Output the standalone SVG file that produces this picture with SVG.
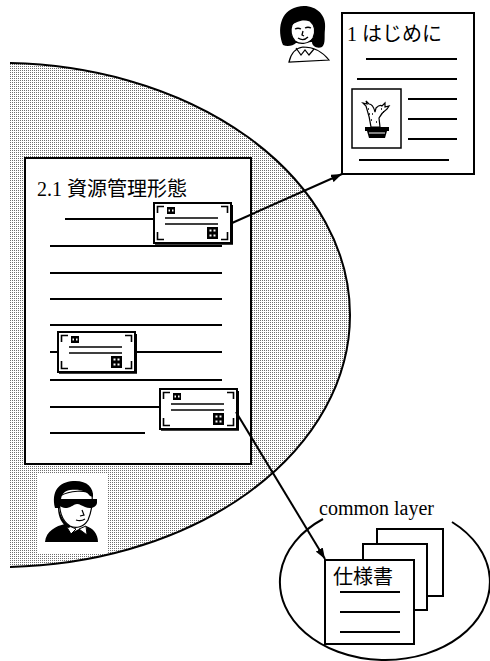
<svg xmlns="http://www.w3.org/2000/svg" width="490" height="661" viewBox="0 0 490 661">
  <style>
    .ln{stroke:#000;stroke-width:1.8;fill:none}
    .doc{fill:#fff;stroke:#000;stroke-width:2}
    .t{font-family:"Liberation Serif","Noto Sans CJK JP",serif;font-size:20px;fill:#000}
    .blk{fill:#000}
    .wht{fill:#fff;stroke:#000;stroke-width:1.2}
  </style>
  <defs>
    <pattern id="stipple" width="2" height="2" patternUnits="userSpaceOnUse">
      <rect width="2" height="2" fill="#fff"/>
      <rect width="1" height="1" fill="#6e6e6e"/>
    </pattern>
    <clipPath id="cutLeft">
      <rect x="10" y="0" width="480" height="661"/>
    </clipPath>
    <marker id="arrow" markerWidth="11" markerHeight="8" refX="11" refY="4" orient="auto" markerUnits="userSpaceOnUse">
      <path d="M0,0 L11,4 L0,8 Z" fill="#000"/>
    </marker>
    <!-- linked-resource card: ticket outline with corner brackets and link squares -->
    <symbol id="card" viewBox="0 0 80 43" width="80" height="43">
      <rect x="1" y="1" width="77" height="40" fill="#fff" stroke="#000" stroke-width="2"/>
      <path d="M2,41.5 H79 V3" stroke="#000" stroke-width="2.5" fill="none"/>
      <path d="M4.5,11 V4.5 H11 M68,4.5 H74.5 V11 M4.5,30 V37.5 H11 M68,37.5 H74.5 V30" stroke="#000" stroke-width="1.6" fill="none"/>
      <rect x="14" y="5" width="8" height="7" fill="#000"/>
      <rect x="15.5" y="7.5" width="1.5" height="2" fill="#fff"/>
      <rect x="19" y="7.5" width="1.5" height="2" fill="#fff"/>
      <rect x="54" y="25" width="11" height="12" fill="#000"/>
      <rect x="56.5" y="27.5" width="2" height="2" fill="#fff"/>
      <rect x="60.5" y="27.5" width="2" height="2" fill="#fff"/>
      <rect x="56.5" y="32.5" width="2" height="2" fill="#fff"/>
      <rect x="60.5" y="32.5" width="2" height="2" fill="#fff"/>
      <path d="M12,16 H65 M12,22 H65" stroke="#000" stroke-width="1.6"/>
    </symbol>
  </defs>

  <rect width="490" height="661" fill="#fff"/>

  <!-- shaded working domain -->
  <g id="domain" clip-path="url(#cutLeft)">
    <ellipse cx="0" cy="315" rx="350" ry="252" fill="url(#stipple)" stroke="#000" stroke-width="2"/>
  </g>

  <!-- section document 2.1 with embedded cards -->
  <g id="doc-resource">
    <rect class="doc" x="25" y="158" width="226" height="306"/>
    <text class="t" x="37" y="196">2.1 資源管理形態</text>
    <path class="ln" d="M65,219 H153 M50,246 H222 M50,273 H222 M50,299 H222 M50,325 H222 M50,352 H222 M50,380 H222 M50,407 H160 M50,433 H145"/>
    <use href="#card" x="153" y="202"/>
    <use href="#card" x="57" y="331"/>
    <use href="#card" x="159" y="388"/>
  </g>

  <!-- author (sunglasses) -->
  <g id="man">
    <rect x="38" y="473" width="70" height="80" fill="#fff"/>
    <path class="blk" d="M45,542 C46,531 56,526 65,524 L71,533 L79,529 L87,534 L86,526 C93,528 98,534 98,542 Z"/>
    <path fill="#fff" stroke="#000" stroke-width="1" d="M65,524 L71,534 L76,529 Z M86,526 L87,535 L79,529 Z"/>
    <path class="wht" d="M60,496 C58,510 62,521 70,526 C76,529 84,527 88,520 C91,513 93,505 92,494 C86,490 70,490 60,496 Z"/>
    <path class="blk" d="M55,508 C51,491 59,482 73,481 C86,480 94,487 93,497 L90,496 C86,490 78,489 70,490 C64,491 61,495 61,500 L60,508 Z"/>
    <path class="blk" d="M59,508 C60,516 64,522 71,527 L68,528 C62,524 58,517 58,508 Z"/>
    <path class="blk" d="M56,499 H97 V503 C96,508 90,509 85,507 C82,506 80,504 77,504 C74,504 72,507 67,508 C62,508 59,506 58,503 L56,502 Z"/>
    <path d="M82,510 L84,515 L80,516 M76,520 C79,521 82,521 85,519" stroke="#000" stroke-width="1.2" fill="none"/>
  </g>

  <!-- reader -->
  <g id="woman">
    <path class="wht" stroke-width="1.8" d="M289,62 C291,53 296,48 303,47 C311,47 321,50 329,60 Z"/>
    <path d="M296,48 L301,55 L305,50 L309,55 L314,49" stroke="#000" stroke-width="1.2" fill="none"/>
    <path class="blk" d="M283,45 C277,30 280,11 297,7 C313,3 327,13 325,29 C324,37 326,43 322,47 C317,49 312,46 312,42 L296,43 C293,46 287,47 283,45 Z"/>
    <path class="wht" d="M292,25 C295,19 304,18 310,21 C315,25 316,32 313,38 C309,44 300,45 295,41 C291,37 290,30 292,25 Z"/>
    <path class="blk" d="M290,26 C294,16 306,13 314,22 C307,19 298,20 290,26 Z"/>
    <path d="M295,29 C297,28 299,28 301,29 M305,28 C307,27 309,27 311,28 M303,31 L302,35 L304,36 M298,38 C301,40 305,40 308,37" stroke="#000" stroke-width="1.3" fill="none"/>
  </g>

  <!-- introduction document -->
  <g id="doc-intro">
    <rect class="doc" x="342" y="13" width="132" height="161"/>
    <text class="t" x="347" y="41">1 はじめに</text>
    <path class="ln" d="M366,59 H457 M357,79 H457 M408,99 H457 M408,119 H457 M408,139 H457 M359,160 H449"/>
    <rect x="352" y="89" width="49" height="59" fill="#fff" stroke="#000" stroke-width="1.5"/>
    <!-- potted cactus -->
    <path fill="#fff" stroke="#000" stroke-width="1.2" d="M371,127 C370,119 368,112 366,106 L363,103 L367,104 L366,101 L369,104 C372,104 374,108 375,112 L376,108 C378,106 380,104 382,106 L385,103 L385,107 L389,106 L387,109 C384,111 381,114 379,118 L380,127 Z"/>
    <path d="M368,109 h1 M372,114 h1 M371,120 h1 M376,122 h1 M381,109 h1 M383,112 h1 M369,114 h1" stroke="#000" stroke-width="1.5"/>
    <path class="blk" d="M365,127 H389 V131 H365 Z M367,131 H387 L385,138 H369 Z"/>
    <path d="M369,133 H385" stroke="#fff" stroke-width="1"/>
  </g>

  <!-- shared specification layer -->
  <g id="common-layer">
    <path d="M452,522 A105 78 0 1 1 323,519" stroke="#000" stroke-width="2" fill="none"/>
    <text class="t" x="319" y="515">common layer</text>
    <rect class="doc" x="377" y="529" width="66" height="67"/>
    <rect class="doc" x="363" y="544" width="64" height="66"/>
    <rect class="doc" x="325" y="560" width="89" height="84"/>
    <text class="t" x="333" y="584">仕様書</text>
    <path class="ln" d="M340,592 H400 M340,612 H400 M340,632 H400"/>
  </g>

  <!-- references between documents -->
  <g id="connectors" stroke="#000" stroke-width="2" fill="none">
    <line x1="232" y1="223" x2="342" y2="174" marker-end="url(#arrow)"/>
    <line x1="236" y1="412" x2="325" y2="559" marker-end="url(#arrow)"/>
  </g>
</svg>
